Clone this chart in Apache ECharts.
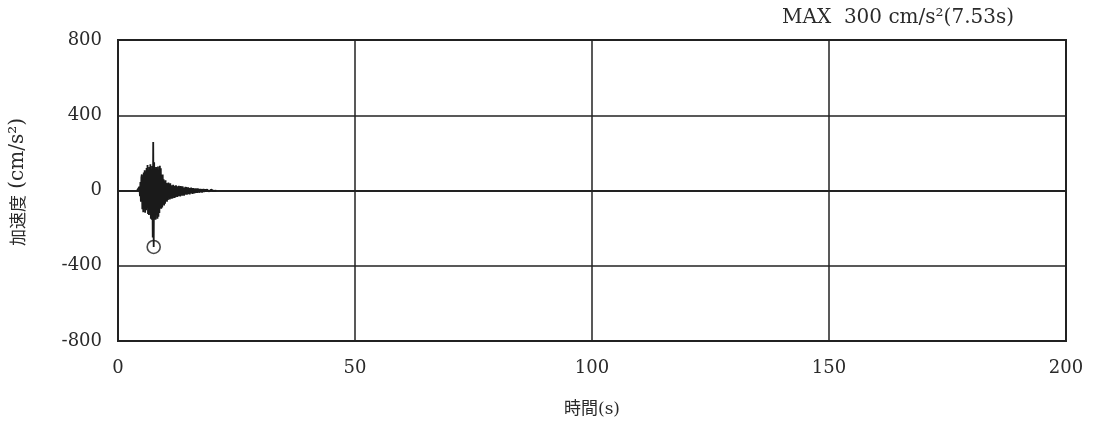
<!DOCTYPE html>
<html>
<head>
<meta charset="utf-8">
<script src="https://cdn.jsdelivr.net/npm/echarts@6/dist/echarts.min.js"></script>
<style>html,body{margin:0;padding:0;background:#fff}#c{width:1094px;height:423px}</style>
</head>
<body>
<div id="c"></div>
<script>
// Sampling grid of the record (s)
var startTime = 4.03;
var timeStep = 0.1;
// Acceleration values (cm/s^2)
var accel = [
  0, 3, -5, 8, -10,
  20, -30, 45, -60, 70,
  85, -100, 60, -115, 95, -80, 108, -118, 70, -105,
  120, -90, 135, -125, 95, -130, 125, -110, 140, -150,
  100, -155, 130, -250, 258,
  -300,
  150, -120, 95, -155, 125, -130, 110, -150,
  128, -140, 100, -120, 132, -95, 118, -97, 80, -90,
  85, -70, 60, -80, 45, -70, 55, -50, 40, -60,
  30, -50, 42, -35, 25, -48, 38, -30, 28, -44,
  20, -42, 30, -28, 25, -40, 18, -36, 28, -25,
  22, -34, 15, -30, 25, -22, 18, -32, 24, -20,
  14, -28, 22, -18, 16, -27, 12, -22, 20, -16,
  18, -22, 11, -20, 17, -14, 13, -21, 10, -15,
  15, -12, 9, -18, 13, -10, 12, -15, 8, -13,
  12, -9, 7, -13, 11, -8, 9, -12, 6, -10,
  9, -7, 8, -11, 6, -6, 8, -9, 5, -7,
  7, -5, 4, -7, 6, -4, 5, -6, 3, -5,
  4, -3, 5, -4, 2, -4, 3, -2, 2, -3,
  2, -1, 1, -1, 0
];
var maxPoint = [7.53, -300];
var xTicks = [0, 50, 100, 150, 200];
var yTicks = [-800, -400, 0, 400, 800];
var titleText = 'MAX  300 cm/s²(7.53s)';
var xName = '時間(s)';
var yNameJa = '加速度';
var yNameUnit = ' (cm/s²)';

var wave = accel.map(function (v, i) { return [startTime + i * timeStep, v]; });
var serif = "'DejaVu Serif', 'Liberation Serif', 'Noto Sans CJK JP', serif";
var ink = '#2a2a2a';

var chart = echarts.init(document.getElementById('c'), null, {renderer: 'canvas'});
chart.setOption({
  animation: false,
  backgroundColor: '#fff',
  title: {
    text: titleText,
    right: 75, top: 3,
    textStyle: {fontFamily: serif, fontSize: 20, fontWeight: 'normal', color: ink}
  },
  graphic: [{
    type: 'text',
    x: 18, y: 182,
    rotation: Math.PI / 2,
    style: {
      text: '{j|' + yNameJa + '}{l|' + yNameUnit + '}',
      align: 'center', verticalAlign: 'middle',
      rich: {
        j: {fontFamily: "'Noto Sans CJK JP', sans-serif", fontSize: 17, fill: ink},
        l: {fontFamily: serif, fontSize: 20, fill: ink}
      }
    }
  }],
  grid: {left: 118, right: 28, top: 40, bottom: 81, show: true, borderColor: '#222', borderWidth: 2},
  xAxis: {
    type: 'value', min: xTicks[0], max: xTicks[xTicks.length - 1], interval: 50,
    name: xName, nameLocation: 'middle', nameGap: 60,
    nameTextStyle: {fontFamily: serif, fontSize: 17, color: ink},
    axisLine: {lineStyle: {color: '#222', width: 2}},
    axisTick: {show: false},
    axisLabel: {fontFamily: serif, fontSize: 18, color: ink, margin: 18},
    splitLine: {lineStyle: {color: '#222', width: 1.5}}
  },
  yAxis: {
    type: 'value', min: yTicks[0], max: yTicks[yTicks.length - 1], interval: 400,
    axisLine: {lineStyle: {color: '#222', width: 2}},
    axisTick: {show: false},
    axisLabel: {fontFamily: serif, fontSize: 18, color: ink, margin: 16},
    splitLine: {lineStyle: {color: '#222', width: 1.5}}
  },
  series: [
    {
      type: 'line', data: wave, showSymbol: false, silent: true,
      lineStyle: {color: '#1a1a1a', width: 1.8}
    },
    {
      type: 'scatter', data: [maxPoint], symbol: 'circle', symbolSize: 13, silent: true,
      itemStyle: {color: 'rgba(0,0,0,0)', borderColor: '#1a1a1a', borderWidth: 1.6}
    }
  ]
});
</script>
</body>
</html>
